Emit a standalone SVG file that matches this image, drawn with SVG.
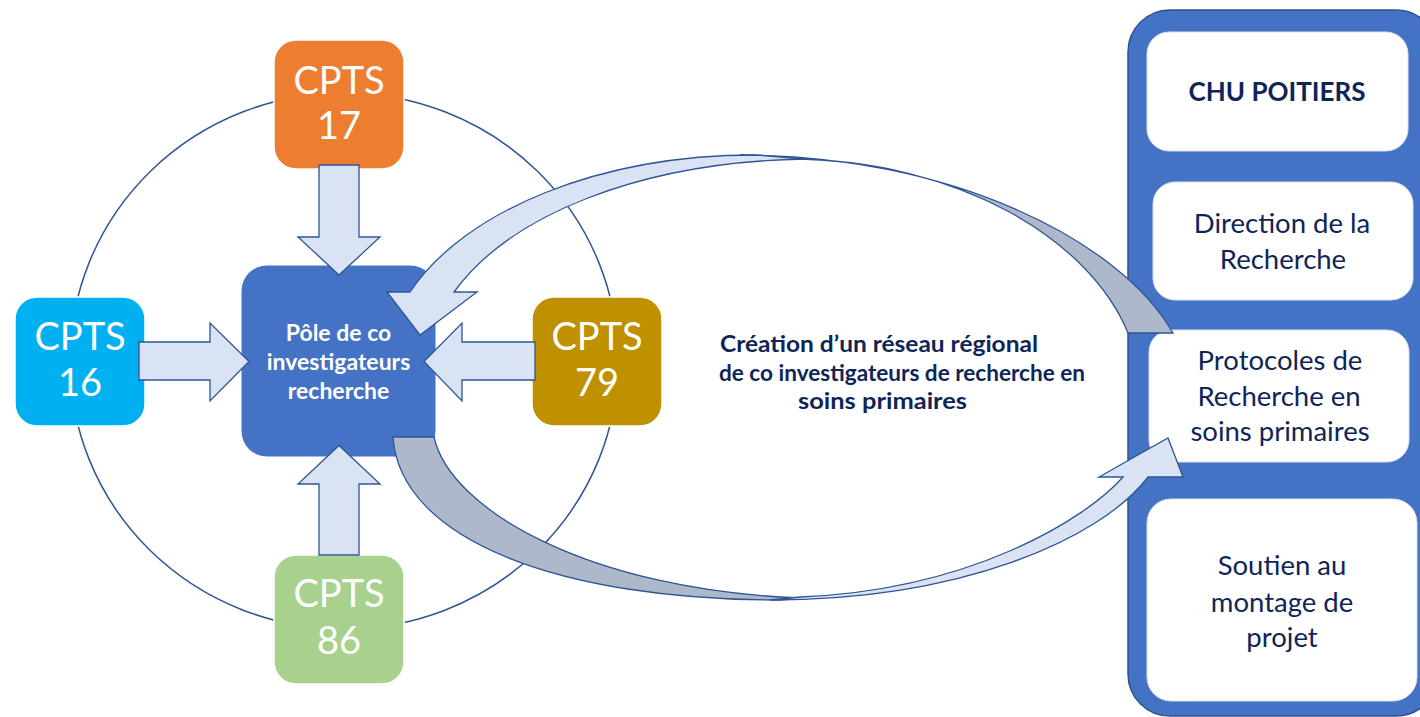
<svg xmlns="http://www.w3.org/2000/svg" width="1420" height="717" viewBox="0 0 1420 717">
<style>
.cpts{stroke:#ffffff;stroke-width:1.5}
.ct{font-family:Lato,"Open Sans",sans-serif;font-size:38px;fill:#ffffff;text-anchor:middle}
.ctr{font-family:Lato,"Open Sans",sans-serif;font-size:23px;font-weight:bold;fill:#ffffff;text-anchor:middle}
.mid{font-family:Lato,"Open Sans",sans-serif;font-size:23px;font-weight:bold;fill:#0F2557;text-anchor:middle}
.pt{font-family:Lato,"Open Sans",sans-serif;font-size:27.5px;fill:#0F2557;text-anchor:middle}
.ptb{font-family:Lato,"Open Sans",sans-serif;font-size:26px;font-weight:bold;fill:#0F2557;text-anchor:middle}
.wbox{fill:#ffffff;stroke:#D9E2F3;stroke-width:1}
.blk{fill:#DAE3F3;stroke:#2F5597;stroke-width:1.3;stroke-linejoin:miter}
.back{fill:#ADB9CA;stroke:#2F5597;stroke-width:1.3}
</style>
<rect width="1420" height="717" fill="#ffffff"/>
<g id="ring">
<ellipse cx="344" cy="361" rx="274" ry="268" fill="none" stroke="#2F5597" stroke-width="1.5"/>
</g>
<g id="pole">
<rect x="241" y="265" width="195" height="192" rx="26" fill="#4472C4" stroke="#ffffff" stroke-width="1"/>
<text class="ctr" x="338.5" y="341">Pôle de co</text>
<text class="ctr" x="338.5" y="370">investigateurs</text>
<text class="ctr" x="338.5" y="399">recherche</text>
</g>
<g id="cpts17">
<rect class="cpts" x="274" y="40" width="130" height="129" rx="22" fill="#ED7D31"/>
<text class="ct" x="339" y="94">CPTS</text>
<text class="ct" x="339" y="139">17</text>
</g>
<g id="cpts16">
<rect class="cpts" x="15" y="297" width="130" height="129" rx="22" fill="#00B0F0"/>
<text class="ct" x="80" y="350">CPTS</text>
<text class="ct" x="80" y="396">16</text>
</g>
<g id="cpts79">
<rect class="cpts" x="532" y="297" width="130" height="129" rx="22" fill="#BF9000"/>
<text class="ct" x="597" y="350">CPTS</text>
<text class="ct" x="597" y="396">79</text>
</g>
<g id="cpts86">
<rect class="cpts" x="274" y="555" width="130" height="129" rx="22" fill="#A9D18E"/>
<text class="ct" x="339" y="607">CPTS</text>
<text class="ct" x="339" y="654">86</text>
</g>
<g id="label">
<text class="mid" x="879" y="352" textLength="318" lengthAdjust="spacingAndGlyphs">Création d’un réseau régional</text>
<text class="mid" x="902" y="381" textLength="366" lengthAdjust="spacingAndGlyphs">de co investigateurs de recherche en</text>
<text class="mid" x="882.5" y="409" textLength="169" lengthAdjust="spacingAndGlyphs">soins primaires</text>
</g>
<g id="chu">
<rect x="1128" y="10" width="310" height="706" rx="42" fill="#4472C4" stroke="#2F528F" stroke-width="1.5"/>
<g id="chu-poitiers">
<rect class="wbox" x="1147" y="32" width="261" height="119" rx="22"/>
<text class="ptb" x="1277" y="101">CHU POITIERS</text>
</g>
<g id="direction">
<rect class="wbox" x="1153" y="182" width="260" height="118" rx="22"/>
<text class="pt" x="1282" y="233">Direction de la</text>
<text class="pt" x="1283" y="269">Recherche</text>
</g>
<g id="protocoles">
<rect class="wbox" x="1149" y="330" width="260" height="132" rx="22"/>
<text class="pt" x="1280" y="370">Protocoles de</text>
<text class="pt" x="1279" y="406">Recherche en</text>
<text class="pt" x="1280" y="441">soins primaires</text>
</g>
<g id="soutien">
<rect class="wbox" x="1147" y="499" width="270" height="202" rx="24"/>
<text class="pt" x="1282" y="575">Soutien au</text>
<text class="pt" x="1282" y="612">montage de</text>
<text class="pt" x="1282" y="647">projet</text>
</g>
</g>
<g id="connectors">
<polygon class="blk" points="319,165 359,165 359,237 380,237 339,275 298,237 319,237"/>
<polygon class="blk" points="139,342 210,342 210,323 249,361.5 210,401 210,380 139,380"/>
<polygon class="blk" points="535,342 462,342 462,323 424,361.5 462,401 462,380 535,380"/>
<polygon class="blk" points="319,555 359,555 359,484 380,484 339,445.5 298,484 319,484"/>
<path class="back" d="M 740 155 C 950 155 1120 240 1173 333 L 1128 333 C 1090 240 960 160 790 159 Z"/>
<path class="blk" d="M 410 292 L 387 292 L 420 335 L 477 292 L 454 292 C 510 215 640 162 805 159 L 755 155 C 600 155 465 210 410 292 Z"/>
<path class="back" d="M 393 437 L 434 437 C 450 510 590 590 800 598 L 780 600 C 560 600 400 540 393 437 Z"/>
<path class="blk" d="M 770 600 C 960 600 1100 540 1148 477 L 1183 477 L 1168 438 L 1099 477 L 1123 477 C 1085 520 970 590 800 597 Z"/>
</g>
</svg>
